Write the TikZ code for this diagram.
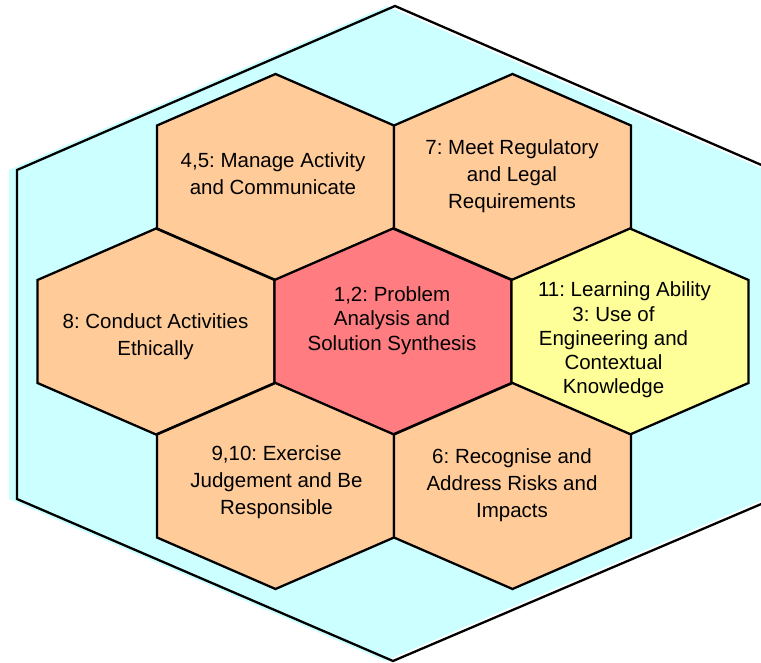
\documentclass[tikz,border=0pt]{standalone}
\usepackage{fontspec}
\setmainfont{Liberation Sans}
\frenchspacing
\definecolor{panelcyan}{HTML}{CCFFFF}
\definecolor{peach}{HTML}{FFCC99}
\definecolor{corered}{HTML}{FF7C80}
\definecolor{lemon}{HTML}{FFFF99}
\begin{document}
\begin{tikzpicture}[x=1pt,y=-1pt,
  cell/.style={draw=black,line width=2.3pt,line join=miter},
  outline/.style={draw=black,line width=2.3pt,line join=miter},
  captext/.style={align=center,inner sep=0pt,font=\fontsize{20.5}{27}\selectfont},
  tight/.style={font=\fontsize{20.5}{24.3}\selectfont}]
\useasboundingbox (0,0) rectangle (761,663);
% flattened hexagonal cell centred at (#1,#2), filled with #3
\newcommand\hexcell[3]{%
  \filldraw[cell,fill=#3,shift={(#1,#2)}]
    (0,-103) -- (118.5,-51.5) -- (118.5,51.5) -- (0,103)
    -- (-118.5,51.5) -- (-118.5,-51.5) -- cycle;}
% outer panel: fill set slightly to the left of its outline
\fill[panelcyan,shift={(-8,0)}] (395,6) -- (773,170) -- (773,499) -- (393,661) -- (17,499) -- (17,170) -- cycle;
\draw[outline] (395,6) -- (773,170) -- (773,499) -- (393,661) -- (17,499) -- (17,170) -- cycle;
% honeycomb of cells
\hexcell{275.5}{177}{peach}
\hexcell{512.5}{177}{peach}
\hexcell{156}{331.5}{peach}
\hexcell{393}{331.5}{corered}
\hexcell{630}{331.5}{lemon}
\hexcell{275.5}{486}{peach}
\hexcell{512.5}{486}{peach}
% cell captions
\node[captext] (comm) at (273,173.5) {4,5: Manage Activity\\and Communicate};
\node[captext] (legal) at (512,176) {7: Meet Regulatory\\and Legal\\Requirements};
\node[captext] (ethic) at (155.5,337) {8: Conduct Activities\\Ethically};
\node[captext,tight] (core) at (392,320.5) {1,2: Problem\\Analysis and\\Solution Synthesis};
\node[captext,tight] (know) at (613.5,340) {\hspace*{22pt}11: Learning Ability\\3: Use of\\Engineering and\\Contextual\\Knowledge};
\node[captext] (judge) at (276.5,482) {9,10: Exercise\\Judgement and Be\\Responsible};
\node[captext] (risk) at (512,485) {6: Recognise and\\Address Risks and\\Impacts};
\end{tikzpicture}
\end{document}
